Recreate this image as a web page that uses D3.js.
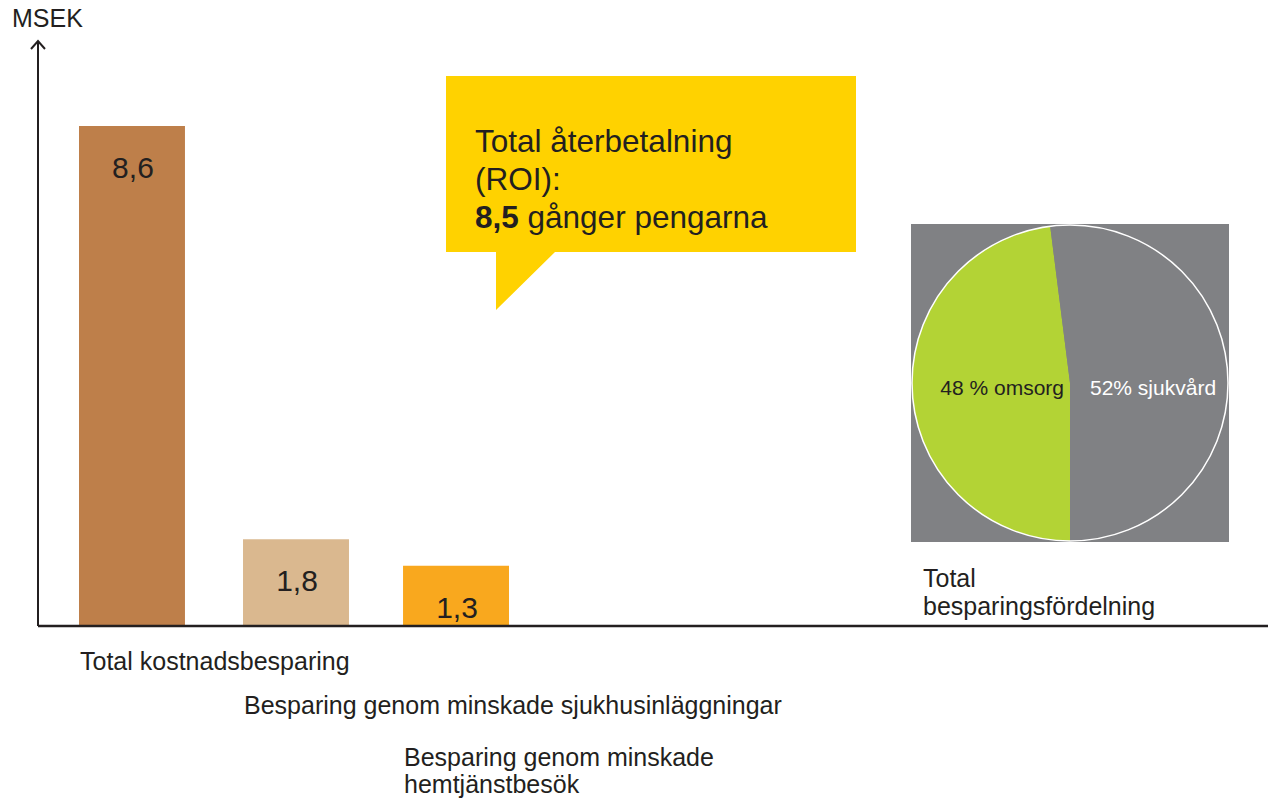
<!DOCTYPE html>
<html>
<head>
<meta charset="utf-8">
<script src="https://cdn.jsdelivr.net/npm/d3@7"></script>
<style>
  html, body { margin: 0; padding: 0; background: #fff; }
  svg { display: block; font-family: "Liberation Sans", Arial, sans-serif; }
</style>
</head>
<body>
<svg id="chart" width="1268" height="799"></svg>
<script>
// Données
const categories = [
  "Total kostnadsbesparing",
  "Besparing genom minskade sjukhusinläggningar",
  "Besparing genom minskade hemtjänstbesök"
];
const values = [8.6, 1.8, 1.3];
const barColors = ["#BE7F4A", "#DAB88F", "#F9A81E"];

const pieLabels = ["48 % omsorg", "52% sjukvård"];
const pieValues = [48, 52];
const pieColors = ["#B3D335", "#808184"];

const roi = 8.5;

const svg = d3.select("#chart");
const fmt = v => d3.format(".1f")(v).replace(".", ",");

// Axes (bas et gauche)
const axisY = 626;
const axisX = 38;

const x = d3.scaleBand()
  .domain(categories)
  .range([79, 509])
  .paddingInner(0.346)
  .paddingOuter(0);

// échelle non linéaire pour suivre l'original (barres pas à l'échelle)
const y = d3.scalePow()
  .exponent(1.12)
  .domain([0, 8.6])
  .range([axisY, 126]);

// Barres
svg.selectAll(".bar")
  .data(values)
  .enter()
  .append("rect")
  .attr("class", "bar")
  .attr("x", (d, i) => x(categories[i]) + (i === 1 ? 2 : 0))
  .attr("y", d => y(d))
  .attr("width", x.bandwidth())
  .attr("height", d => axisY - y(d))
  .attr("fill", (d, i) => barColors[i]);

// Valeurs dans les barres
svg.selectAll(".val")
  .data(values)
  .enter()
  .append("text")
  .attr("class", "val")
  .attr("x", (d, i) => x(categories[i]) + (i === 1 ? 2 : 0) + x.bandwidth() / 2 + 1)
  .attr("y", d => y(d) + 52)
  .attr("text-anchor", "middle")
  .attr("fill", "#231F20")
  .style("font-size", "30px")
  .text(d => fmt(d));

// Axe X
svg.append("line")
  .attr("x1", axisX).attr("x2", 1268)
  .attr("y1", axisY).attr("y2", axisY)
  .attr("stroke", "#231F20")
  .attr("stroke-width", 2.5);

// Axe Y avec flèche
svg.append("line")
  .attr("x1", axisX).attr("x2", axisX)
  .attr("y1", axisY).attr("y2", 41)
  .attr("stroke", "#231F20")
  .attr("stroke-width", 2);

svg.append("path")
  .attr("d", `M${axisX - 7},${49} L${axisX},${41} L${axisX + 7},${49}`)
  .attr("fill", "none")
  .attr("stroke", "#231F20")
  .attr("stroke-width", 2);

svg.append("text")
  .attr("x", 12)
  .attr("y", 27)
  .attr("fill", "#231F20")
  .style("font-size", "25px")
  .text("MSEK");

// Libellés des catégories (en escalier)
const labelLines = [
  [categories[0]],
  [categories[1]],
  ["Besparing genom minskade", "hemtjänstbesök"]
];
const labelBaselines = [670, 714, 766];

labelLines.forEach((lines, i) => {
  const lx = x(categories[i]) + 1 + (i === 1 ? 2 : 0);
  const t = svg.append("text")
    .attr("x", lx)
    .attr("y", labelBaselines[i])
    .attr("fill", "#231F20")
    .style("font-size", "25px");
  lines.forEach((l, j) => {
    t.append("tspan")
      .attr("x", lx)
      .attr("dy", j === 0 ? 0 : 27)
      .text(l);
  });
});

// Bulle ROI
svg.append("path")
  .attr("d", "M446,76 L856,76 L856,252 L555,252 L496,310 L496,252 L446,252 Z")
  .attr("fill", "#FFD200");

const roiText = svg.append("text")
  .attr("x", 475)
  .attr("y", 152)
  .attr("fill", "#231F20")
  .style("font-size", "31.5px");
roiText.append("tspan").attr("x", 475).attr("dy", 0).text("Total återbetalning");
roiText.append("tspan").attr("x", 475).attr("dy", 38).text("(ROI):");
roiText.append("tspan").attr("x", 475).attr("dy", 38)
  .style("font-weight", "bold").text(fmt(roi));
roiText.append("tspan").text(" gånger pengarna");

// Camembert
const pieBox = { x: 911, y: 224, size: 318 };
const cx = pieBox.x + pieBox.size / 2;
const cy = pieBox.y + pieBox.size / 2;
const radius = pieBox.size / 2;

svg.append("rect")
  .attr("x", pieBox.x)
  .attr("y", pieBox.y)
  .attr("width", pieBox.size)
  .attr("height", pieBox.size)
  .attr("fill", "#808184");

const pie = d3.pie()
  .sort(null)
  .startAngle(Math.PI)
  .endAngle(3 * Math.PI);

const arc = d3.arc().innerRadius(0).outerRadius(radius - 1);

const pieG = svg.append("g").attr("transform", `translate(${cx},${cy})`);

pieG.selectAll("path")
  .data(pie(pieValues))
  .enter()
  .append("path")
  .attr("d", arc)
  .attr("fill", (d, i) => pieColors[i]);

pieG.append("circle")
  .attr("r", radius - 1)
  .attr("fill", "none")
  .attr("stroke", "#fff")
  .attr("stroke-width", 1.5);

pieG.append("text")
  .attr("x", -6)
  .attr("y", 12)
  .attr("text-anchor", "end")
  .attr("fill", "#231F20")
  .style("font-size", "21px")
  .text(pieLabels[0]);

pieG.append("text")
  .attr("x", 20)
  .attr("y", 12)
  .attr("fill", "#fff")
  .style("font-size", "21px")
  .text(pieLabels[1]);

// Titre du camembert
const pieTitle = svg.append("text")
  .attr("x", 923)
  .attr("y", 587)
  .attr("fill", "#231F20")
  .style("font-size", "25px");
pieTitle.append("tspan").attr("x", 923).attr("dy", 0).text("Total");
pieTitle.append("tspan").attr("x", 923).attr("dy", 28).text("besparingsfördelning");
</script>
</body>
</html>
